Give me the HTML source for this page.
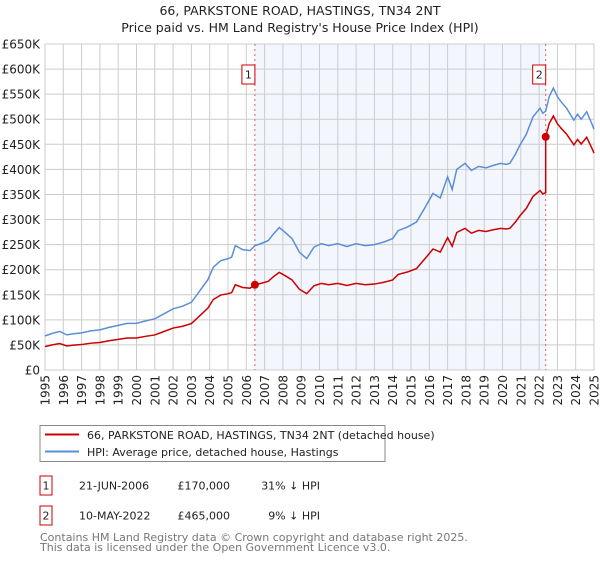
<!DOCTYPE html>
<html><head><meta charset="utf-8"><style>
body{margin:0;background:#fff;font-family:"Liberation Sans","DejaVu Sans",sans-serif;}
svg text{font-family:"DejaVu Sans","Liberation Sans",sans-serif;}
</style></head><body>
<svg id="chart" width="600" height="560" viewBox="0 0 600 560">
<text x="300" y="15" text-anchor="middle" font-size="12.5" fill="#222">66, PARKSTONE ROAD, HASTINGS, TN34 2NT</text>
<text x="300" y="32" text-anchor="middle" font-size="12.5" fill="#222">Price paid vs. HM Land Registry's House Price Index (HPI)</text>
<g id="plot"></g>
<g>
<rect x="40" y="425.5" width="345" height="36" fill="#fff" stroke="#888"/>
<line x1="45" y1="434.5" x2="79" y2="434.5" stroke="#cc0000" stroke-width="2"/>
<text x="87" y="439" font-size="11" fill="#222">66, PARKSTONE ROAD, HASTINGS, TN34 2NT (detached house)</text>
<line x1="45" y1="451.5" x2="79" y2="451.5" stroke="#5b8ed6" stroke-width="2"/>
<text x="87" y="456" font-size="11" fill="#222">HPI: Average price, detached house, Hastings</text>
</g>
<g font-size="11" fill="#222">
<rect x="40" y="476" width="12" height="19" fill="#fff" stroke="#cc0000"/>
<text x="46" y="489.5" text-anchor="middle">1</text>
<text x="79" y="489.5">21-JUN-2006</text>
<text x="230" y="489.5" text-anchor="end">£170,000</text>
<text x="320" y="489.5" text-anchor="end">31% ↓ HPI</text>
<rect x="40" y="506" width="12" height="19" fill="#fff" stroke="#cc0000"/>
<text x="46" y="519.5" text-anchor="middle">2</text>
<text x="79" y="519.5">10-MAY-2022</text>
<text x="230" y="519.5" text-anchor="end">£465,000</text>
<text x="320" y="519.5" text-anchor="end">9% ↓ HPI</text>
</g>
<text x="40" y="541" font-size="11" fill="#777">Contains HM Land Registry data © Crown copyright and database right 2025.</text>
<text x="40" y="551" font-size="11" fill="#777">This data is licensed under the Open Government Licence v3.0.</text>
</svg>
<script>
const hpiYears=[1995,1995.4,1995.8,1996.2,1996.5,1997,1997.5,1998,1998.5,1999,1999.5,2000,2000.5,2001,2001.5,2002,2002.5,2003,2003.3,2003.6,2003.9,2004.2,2004.6,2005,2005.2,2005.4,2005.8,2006.2,2006.47,2006.8,2007.2,2007.5,2007.8,2008.1,2008.5,2008.9,2009.3,2009.7,2010.1,2010.5,2011,2011.5,2012,2012.5,2013,2013.5,2014,2014.3,2014.8,2015.3,2015.8,2016.2,2016.6,2017,2017.25,2017.5,2017.95,2018.3,2018.7,2019.1,2019.5,2019.9,2020.2,2020.4,2020.7,2020.96,2021.3,2021.67,2022.05,2022.2,2022.36,2022.55,2022.78,2023.0,2023.2,2023.5,2023.9,2024.1,2024.3,2024.6,2024.87,2025];
const hpiValues=[68,73,77,70,72,74,78,80,85,89,93,93,98,102,112,122,127,135,150,165,180,205,218,222,225,248,240,238,248,252,258,272,284,275,262,235,222,245,252,248,252,246,252,248,250,255,262,278,285,295,326,352,343,385,360,400,412,398,406,403,408,412,410,412,430,449,470,505,522,512,516,545,562,545,535,522,498,510,500,515,492,480];
const saleYears=[2006.47,2022.36];
const salePrices=[170,465];
const yTicks=[0,50,100,150,200,250,300,350,400,450,500,550,600,650];
const yTickLabels=["£0","£50K","£100K","£150K","£200K","£250K","£300K","£350K","£400K","£450K","£500K","£550K","£600K","£650K"];
const xTicks=[1995,1996,1997,1998,1999,2000,2001,2002,2003,2004,2005,2006,2007,2008,2009,2010,2011,2012,2013,2014,2015,2016,2017,2018,2019,2020,2021,2022,2023,2024,2025];

const X0=45,X1=594,Y0=370,Y1=44;
const xs=y=>X0+(y-1995)/30*(X1-X0);
const ys=v=>Y0-v/650*(Y0-Y1);
const NS="http://www.w3.org/2000/svg";
const plot=document.getElementById('plot');
function mk(tag,attrs){const e=document.createElementNS(NS,tag);for(const k in attrs)e.setAttribute(k,attrs[k]);plot.appendChild(e);return e;}
function hpiAt(t){for(let i=0;i<hpiYears.length-1;i++){if(t<=hpiYears[i+1]){const f=(t-hpiYears[i])/(hpiYears[i+1]-hpiYears[i]);return hpiValues[i]+f*(hpiValues[i+1]-hpiValues[i]);}}return hpiValues[hpiValues.length-1];}

let bg=mk('rect',{x:X0,y:Y1,width:X1-X0,height:Y0-Y1,fill:'#fff'});


let sh=mk('rect',{x:xs(saleYears[0]),y:Y1,width:xs(saleYears[1])-xs(saleYears[0]),height:Y0-Y1,fill:'#f3f6fd'});


yTicks.forEach((v,i)=>{
 let l=mk('line',{x1:X0,x2:X1,y1:ys(v),y2:ys(v),stroke:'#ccc','stroke-width':1});
 
 
 let t=mk('text',{x:40,y:ys(v)+4.5,'text-anchor':'end','font-size':12,fill:'#222'});
 t.textContent=yTickLabels[i];
 
 
});
xTicks.forEach(y=>{
 let l=mk('line',{x1:xs(y),x2:xs(y),y1:Y1,y2:Y0,stroke:'#ccc','stroke-width':1});
 
 
 const tx=xs(y)+4.5, ty=375;
 let t=mk('text',{x:tx,y:ty,'text-anchor':'end','font-size':12,fill:'#222',transform:'rotate(-90 '+tx+' '+ty+')'});
 t.textContent=y;
 
 
});
let fr=mk('rect',{x:X0,y:Y1,width:X1-X0,height:Y0-Y1,fill:'none',stroke:'#ccc'});


saleYears.forEach((s,i)=>{
 let l=mk('line',{x1:xs(s),x2:xs(s),y1:Y1,y2:Y0,stroke:'#e06060','stroke-width':1,'stroke-dasharray':'2,3'});
 
 
});
let hp=mk('polyline',{points:hpiYears.map((y,i)=>xs(y)+','+ys(hpiValues[i])).join(' '),fill:'none',stroke:'#5b8ed6','stroke-width':1.5});


let pts=[];
hpiYears.forEach((y,i)=>{
 if(y<saleYears[1]){pts.push([y,salePrices[0]*hpiValues[i]/hpiAt(saleYears[0])]);}
});
pts.push([saleYears[1],salePrices[0]*hpiAt(saleYears[1])/hpiAt(saleYears[0])]);
pts.push([saleYears[1],salePrices[1]]);
hpiYears.forEach((y,i)=>{ if(y>saleYears[1]) pts.push([y,salePrices[1]*hpiValues[i]/hpiAt(saleYears[1])]); });
let pl=mk('polyline',{points:pts.map(p=>xs(p[0])+','+ys(p[1])).join(' '),fill:'none',stroke:'#cc0000','stroke-width':1.5});


saleYears.forEach((s,i)=>{
 let c=mk('circle',{cx:xs(s),cy:ys(salePrices[i]),r:4,fill:'#cc0000'});
 
 
 let b=mk('rect',{x:xs(s)-13,y:65,width:13,height:19,fill:'#fff',stroke:'#cc0000'});
 
 
 let t=mk('text',{x:xs(s)-6.5,y:78.5,'text-anchor':'middle','font-size':11,fill:'#222'});
 t.textContent=String(i+1);
 
 
});
</script>
</body></html>
